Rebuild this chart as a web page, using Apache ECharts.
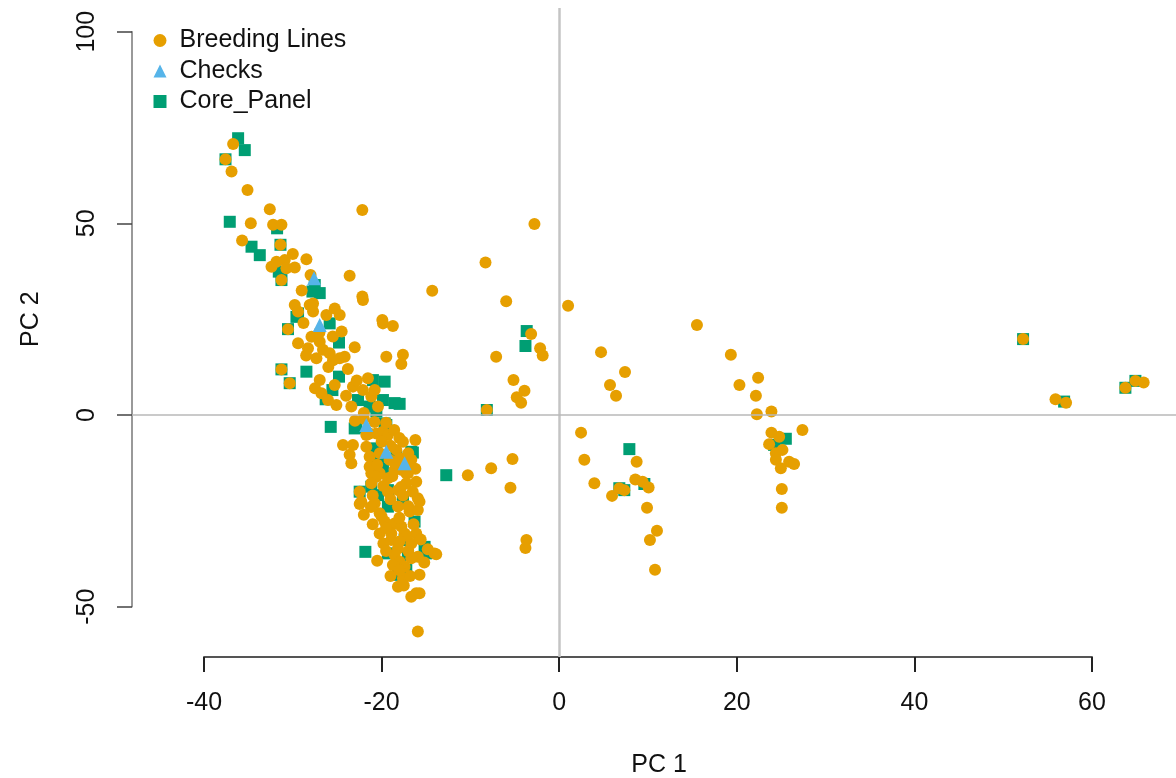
<!DOCTYPE html>
<html>
<head>
<meta charset="utf-8">
<script src="https://cdn.jsdelivr.net/npm/echarts@6/dist/echarts.min.js"></script>
<style>
html,body{margin:0;padding:0;background:#fff;}
#chart{width:1176px;height:778px;}
</style>
</head>
<body>
<div id="chart"></div>
<script>
// ---- data (PC1, PC2) ----
const breedingLines = [
[-36.72,70.7],[-37.58,66.7],[-36.90,63.5],[-35.10,58.7],[-32.59,53.7],[-34.73,50.0],[-32.22,49.6],[-31.28,49.6],
[-22.17,53.5],[-35.71,45.5],[-31.39,44.4],[-30.91,40.4],[-28.47,40.6],[-32.40,38.7],[-31.84,40.0],[-29.78,38.5],
[-30.72,38.3],[-31.28,35.2],[-23.60,36.3],[-22.17,30.9],[-14.30,32.4],[-29.78,28.7],[-27.72,29.1],[-29.41,27.0],
[-27.72,27.0],[-26.22,26.1],[-25.28,27.8],[-24.72,26.1],[-19.92,24.8],[-28.10,28.7],[-22.10,30.0],[-30.54,22.4],
[-19.85,23.9],[-18.73,23.2],[-29.41,18.7],[-28.29,17.4],[-27.90,20.4],[-26.97,19.1],[-26.60,17.0],[-23.03,17.7],
[-27.34,14.8],[-25.85,16.1],[-25.47,14.3],[-24.72,14.8],[-24.16,15.2],[-19.47,15.2],[-17.60,15.7],[-17.78,13.3],
[-7.10,15.2],[-31.28,11.9],[-26.97,9.1],[-26.78,5.7],[-25.28,7.8],[-25.09,2.6],[-26.04,3.9],[-30.35,8.3],
[-23.23,7.4],[-22.10,6.5],[-21.54,9.6],[-21.16,4.8],[-20.78,6.5],[-23.41,2.2],[-20.41,2.2],[-8.15,1.3],
[-21.72,-5.2],[-20.59,-4.8],[-19.85,-4.4],[-24.35,-7.8],[-23.23,-7.8],[-23.60,-10.4],[-23.41,-12.6],[-21.72,-8.3],
[-21.35,-10.9],[-19.10,-11.7],[-18.34,-9.1],[-17.60,-7.0],[-16.85,-12.2],[-17.78,-14.3],[-17.22,-15.2],[-21.16,-15.2],
[-20.22,-15.2],[-10.29,-15.7],[-7.66,-13.9],[-21.35,-4.8],[-19.29,-5.2],[-18.58,-3.9],[-17.97,-11.3],[-16.66,-11.7],
[-21.35,-13.5],[-20.59,-16.1],[-21.16,-17.8],[-19.29,-16.5],[-18.54,-14.3],[-17.04,-15.2],[-17.22,-17.8],[-16.10,-17.4],
[-22.47,-20.0],[-22.28,-22.6],[-19.29,-20.0],[-18.16,-19.6],[-15.92,-21.7],[-22.47,-23.2],[-20.78,-23.0],[-20.22,-25.6],
[-18.16,-23.9],[-16.85,-25.2],[-15.92,-24.8],[-15.73,-22.6],[-19.66,-27.8],[-18.54,-28.3],[-17.78,-29.1],[-20.22,-30.9],
[-18.91,-30.9],[-17.41,-30.9],[-16.10,-30.9],[-18.91,-32.6],[-18.16,-34.8],[-16.66,-33.5],[-14.04,-36.1],[-15.92,-37.0],
[-18.54,-36.5],[-17.97,-38.3],[-16.66,-37.4],[-17.41,-39.6],[-18.73,-39.1],[-15.73,-41.7],[-17.60,-42.6],[-18.16,-44.8],
[-16.10,-46.5],[-16.66,-47.4],[-15.73,-46.5],[-15.92,-56.5],[-13.85,-36.3],
[-20.0,-7.0],[-19.0,-8.0],[-17.0,-10.0],[-20.5,-13.0],[-18.5,-12.5],[-16.2,-14.0],[-19.8,-18.5],[-17.8,-18.8],
[-16.5,-20.0],[-21.0,-21.0],[-19.0,-22.0],[-17.0,-23.8],[-20.0,-26.5],[-18.0,-26.8],[-16.4,-28.5],[-21.0,-28.5],
[-19.5,-29.5],[-17.2,-31.5],[-19.8,-33.5],[-18.0,-33.0],[-15.6,-32.5],[-19.5,-35.5],[-17.0,-35.5],[-15.2,-38.5],
[-18.0,-40.5],[-16.8,-42.0],[-19.0,-42.0],[-17.5,-44.5],[-20.5,-38.0],[-22.0,-26.0],[-21.2,-24.0],[-14.8,-35.0],
[-20.2,-10.0],[-18.0,-6.0],[-16.2,-6.5],[-19.5,-2.0],[-22.0,-1.0],[-20.8,-1.8],[-18.8,-16.0],[-17.6,-21.0],
[-28.8,24.0],[-27.0,21.5],[-25.5,20.5],[-24.5,21.8],[-28.5,15.5],[-26.0,12.5],[-23.8,12.0],[-27.5,7.0],
[-24.0,5.0],[-22.8,9.0],[-22.0,0.5],[-23.0,-1.5],[-29.0,32.5],[-28.0,36.5],[-30.0,42.0],
[-2.79,49.8],[-8.30,39.8],[-5.97,29.7],[1.00,28.5],[15.51,23.5],[-3.16,21.1],[-2.15,17.4],[-1.86,15.5],
[4.71,16.4],[7.41,11.2],[5.72,7.8],[6.40,5.0],[-5.15,9.1],[-3.91,6.3],[-4.78,4.6],[-4.29,3.2],
[19.33,15.7],[22.40,9.7],[20.30,7.8],[22.15,5.0],[22.26,0.2],[23.90,0.9],[2.46,-4.6],[27.39,-3.9],
[23.90,-4.6],[24.77,-5.7],[23.64,-7.6],[24.40,-10.0],[25.14,-9.1],[24.40,-11.7],[24.96,-13.9],[25.89,-12.2],
[26.45,-12.8],[25.07,-19.3],[25.07,-24.2],[8.72,-12.2],[2.83,-11.7],[3.96,-17.8],[5.95,-21.1],[6.77,-19.1],
[7.33,-19.6],[8.57,-16.8],[9.39,-17.4],[10.07,-18.9],[9.89,-24.2],[11.01,-30.2],[10.22,-32.6],[10.79,-40.4],
[-5.26,-11.5],[-5.49,-19.0],[-3.69,-32.6],[-3.80,-34.7],
[52.24,19.8],[55.89,4.1],[57.08,3.2],[63.76,7.1],[64.89,8.9],[65.82,8.5]
];
const checks = [
[-27.61,35.7],[-26.97,23.5],[-21.72,-2.6],[-19.47,-9.6],[-17.41,-12.6]
];
const corePanel = [
[-36.16,72.2],[-35.41,69.1],[-37.58,66.7],[-37.10,50.4],[-31.77,48.7],[-34.65,43.9],[-33.72,41.7],[-31.39,44.4],
[-31.58,37.4],[-31.28,35.2],[-27.53,33.9],[-27.79,32.2],[-26.97,31.8],[-29.59,25.6],[-29.41,26.5],[-25.85,23.9],
[-30.54,22.4],[-24.80,18.9],[-31.28,11.9],[-28.47,11.3],[-24.80,10.0],[-25.54,6.5],[-26.30,4.1],[-30.35,8.3],
[-20.98,9.1],[-19.66,8.7],[-22.66,3.9],[-21.35,2.2],[-19.85,3.9],[-18.54,3.1],[-20.59,0.9],[-8.15,1.3],
[-25.73,-3.1],[-22.84,-3.1],[-19.47,-2.6],[-23.03,-3.5],[-19.66,-2.2],[-20.78,-9.1],[-16.66,-9.6],[-20.59,-8.7],
[-20.41,-11.7],[-19.85,-13.9],[-18.34,-10.9],[-16.48,-9.8],[-12.72,-15.7],[-20.41,-20.9],[-19.29,-19.6],[-17.60,-21.7],
[-21.16,-18.7],[-22.47,-20.0],[-19.29,-23.9],[-17.60,-22.6],[-16.29,-27.8],[-17.41,-32.6],[-15.16,-34.4],[-14.97,-36.1],
[-19.29,-36.1],[-17.04,-36.5],[-21.83,-35.7],[-18.16,-41.7],[-17.22,-40.4],[-3.66,21.9],[-3.80,18.0],[-17.97,2.9],
[7.90,-8.9],[6.77,-19.1],[7.33,-19.6],[9.59,-18.0],[25.52,-6.2],[24.20,-7.8],
[52.24,19.8],[56.86,3.5],[63.76,7.1],[64.89,8.9]
];
const xTicks = [-40, -20, 0, 20, 40, 60];
const yTicks = [-50, 0, 50, 100];
const seriesNames = ['Breeding Lines', 'Checks', 'Core_Panel'];

// ---- chart ----
const FONT = '"Liberation Sans", Arial, Helvetica, sans-serif';
const chart = echarts.init(document.getElementById('chart'), null, {renderer: 'canvas'});
const hiddenAxis = (gi, min, max) => ({gridIndex: gi, type: 'value', min: min, max: max, show: false});

chart.setOption({
  animation: false,
  backgroundColor: '#ffffff',
  textStyle: {fontFamily: FONT},
  grid: [
    {left: 132, right: 0, top: 8, bottom: 121, containLabel: false, outerBoundsMode: 'none'},
    {left: 204, right: 84, top: 8, bottom: 121, containLabel: false, outerBoundsMode: 'none'},
    {left: 132, right: 0, top: 31.7, bottom: 171.3, containLabel: false, outerBoundsMode: 'none'}
  ],
  legend: {
    data: seriesNames,
    orient: 'vertical',
    left: 148.5, top: 23,
    itemWidth: 13, itemHeight: 13, itemGap: 5.5,
    textStyle: {fontFamily: FONT, fontSize: 25, lineHeight: 25, color: '#111', padding: [0, 0, 0, 8]},
    selectedMode: false
  },
  xAxis: [
    {gridIndex: 0, type: 'value', min: -48.11, max: 69.46,
     axisLine: {show: false}, axisTick: {show: false}, axisLabel: {show: false}, splitLine: {show: false},
     name: 'PC 1', nameLocation: 'middle', nameGap: 96,
     nameTextStyle: {fontFamily: FONT, fontSize: 25, color: '#111', padding: [0, 0, 0, 10]}},
    {gridIndex: 1, type: 'value', min: xTicks[0], max: xTicks[xTicks.length - 1], interval: 20,
     axisLine: {show: true, lineStyle: {color: '#555', width: 2}},
     axisTick: {show: true, length: 15, lineStyle: {color: '#222', width: 2}},
     axisLabel: {fontFamily: FONT, fontSize: 25, color: '#111', margin: 34},
     splitLine: {show: false}},
    hiddenAxis(2, 0, 1)
  ],
  yAxis: [
    {gridIndex: 0, type: 'value', min: -63.13, max: 106.17,
     axisLine: {show: false}, axisTick: {show: false}, axisLabel: {show: false}, splitLine: {show: false}},
    hiddenAxis(1, 0, 1),
    {gridIndex: 2, type: 'value', min: yTicks[0], max: yTicks[yTicks.length - 1], interval: 50,
     axisLine: {show: true, lineStyle: {color: '#777', width: 1.5}},
     axisTick: {show: true, length: 15, lineStyle: {color: '#444', width: 1.5}},
     axisLabel: {fontFamily: FONT, fontSize: 25, color: '#111', rotate: 90, margin: 32},
     splitLine: {show: false},
     name: 'PC 2', nameLocation: 'middle', nameGap: 88, nameRotate: 90,
     nameTextStyle: {fontFamily: FONT, fontSize: 25, color: '#111'}}
  ],
  series: [
    {
      name: 'refLines', type: 'scatter', xAxisIndex: 0, yAxisIndex: 0, data: [], z: 1, silent: true,
      markLine: {
        silent: true, symbol: ['none', 'none'], label: {show: false}, animation: false,
        data: [
          {xAxis: 0, lineStyle: {color: '#c4c4c4', width: 2.5, type: 'solid'}},
          {yAxis: 0, lineStyle: {color: '#b8b8b8', width: 1.5, type: 'solid'}}
        ]
      }
    },
    {
      name: seriesNames[0], type: 'scatter', xAxisIndex: 0, yAxisIndex: 0, z: 3,
      symbol: 'circle', symbolSize: 12,
      itemStyle: {color: '#E69F00', opacity: 1},
      data: breedingLines
    },
    {
      name: seriesNames[1], type: 'scatter', xAxisIndex: 0, yAxisIndex: 0, z: 4,
      symbol: 'triangle', symbolSize: 14,
      itemStyle: {color: '#56B4E9', opacity: 1},
      data: checks
    },
    {
      name: seriesNames[2], type: 'scatter', xAxisIndex: 0, yAxisIndex: 0, z: 2,
      symbol: 'rect', symbolSize: 12,
      itemStyle: {color: '#009E73', opacity: 1},
      data: corePanel
    }
  ]
});
</script>
</body>
</html>
